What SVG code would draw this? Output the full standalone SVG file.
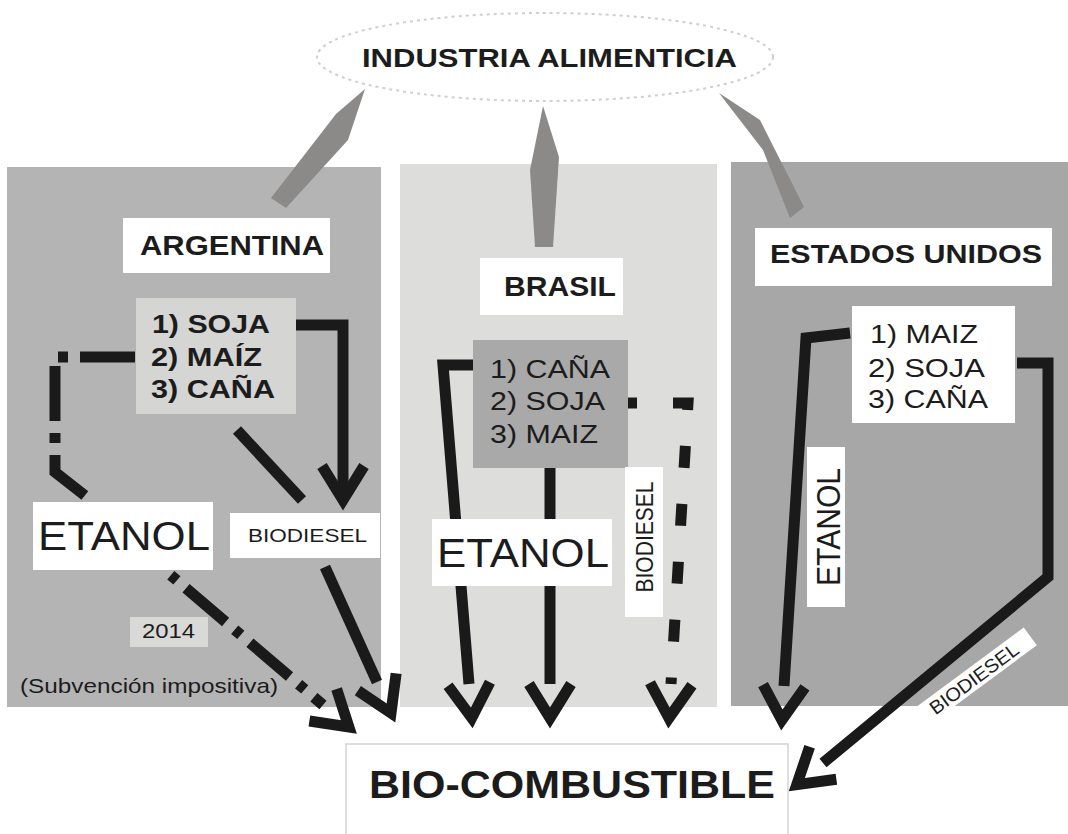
<svg xmlns="http://www.w3.org/2000/svg" width="1068" height="834" viewBox="0 0 1068 834">
<style>
text{font-family:"Liberation Sans",Arial,sans-serif;fill:#1c1c1c}
.b{font-weight:bold}
.lbl{fill:#ffffff}
.ln{fill:none;stroke:#1a1a1a;stroke-width:11;stroke-linejoin:miter}
.wedge{fill:#8c8a88}
</style>
<defs>
<marker id="ah" markerUnits="userSpaceOnUse" markerWidth="80" markerHeight="80" refX="0" refY="0" orient="auto" style="overflow:visible">
<path d="M0,-21 L34,0 L0,21" fill="none" stroke="#1a1a1a" stroke-width="11" stroke-linejoin="miter"/>
</marker>
<marker id="ah2" markerUnits="userSpaceOnUse" markerWidth="80" markerHeight="80" refX="0" refY="0" orient="auto" style="overflow:visible">
<path d="M-34,-21 L0,0 L-34,21" fill="none" stroke="#1a1a1a" stroke-width="11" stroke-linejoin="miter"/>
</marker>
</defs>
<rect width="1068" height="834" fill="#ffffff"/>
<g id="panels">
<rect x="7" y="167" width="374" height="540" fill="#b4b4b4"/>
<rect x="400" y="164" width="317" height="543" fill="#dddddb"/>
<rect x="731" y="162" width="337" height="544" fill="#a7a7a7"/>
</g>
<g id="connectors">
<polygon class="wedge" points="365,89 336,114 271,198 286,208 348,140"/>
<polygon class="wedge" points="543,106 530,170 535,247 553,247 559,157"/>
<polygon class="wedge" points="719,93 760,120 804,207 790,218 763,150"/>
<path class="ln" d="M278,325 H343 V500" marker-end="url(#ah2)"/>
<path class="ln" d="M135,357 H55 V472 L88,498" stroke-dasharray="55 12 10 12"/>
<path class="ln" d="M237,430 L302,500"/>
<path class="ln" d="M167,572 L323,705" stroke-dasharray="52 12 8 12" stroke-dashoffset="59" marker-end="url(#ah)"/>
<path class="ln" d="M325,567 L377,682" marker-end="url(#ah)"/>
<path class="ln" d="M480,365 H443 L469,684" marker-end="url(#ah)"/>
<path class="ln" d="M550,468 V684" marker-end="url(#ah)"/>
<path class="ln" d="M615,403 H688 L671,684" stroke-dasharray="22 36" marker-end="url(#ah)"/>
<path class="ln" d="M850,333 L806,338 L784,686" marker-end="url(#ah)"/>
<path class="ln" d="M1017,363 H1048 V577 L823,763" marker-end="url(#ah)"/>
</g>
<g id="industria">
<ellipse cx="545" cy="57" rx="228" ry="44" fill="#ffffff" stroke="#cfcfcf" stroke-width="2" stroke-dasharray="3 4"/>
<text class="b" x="362" y="67" font-size="26" textLength="375" lengthAdjust="spacingAndGlyphs">INDUSTRIA ALIMENTICIA</text>
</g>
<g id="argentina">
<rect class="lbl" x="123" y="218" width="207" height="55"/>
<text class="b" x="140" y="255" font-size="28" textLength="184" lengthAdjust="spacingAndGlyphs">ARGENTINA</text>
</g>
<g id="arg-cultivos">
<rect x="136" y="298" width="160" height="116" fill="#d5d5d3"/>
<text class="b" x="152" y="333" font-size="25" textLength="118" lengthAdjust="spacingAndGlyphs">1) SOJA</text>
<text class="b" x="151" y="366" font-size="25" textLength="111" lengthAdjust="spacingAndGlyphs">2) MAÍZ</text>
<text class="b" x="151" y="398" font-size="25" textLength="124" lengthAdjust="spacingAndGlyphs">3) CAÑA</text>
</g>
<g id="arg-etanol">
<rect class="lbl" x="33" y="502" width="180" height="68"/>
<text x="38" y="550" font-size="40" textLength="172" lengthAdjust="spacingAndGlyphs">ETANOL</text>
</g>
<g id="arg-biodiesel">
<rect class="lbl" x="230" y="513" width="150" height="45"/>
<text x="248" y="542" font-size="18" textLength="119" lengthAdjust="spacingAndGlyphs">BIODIESEL</text>
</g>
<g id="arg-2014">
<rect x="130" y="617" width="78" height="30" fill="#d9d9d7"/>
<text x="142" y="638" font-size="21" textLength="53" lengthAdjust="spacingAndGlyphs">2014</text>
</g>
<g id="arg-subvencion">
<text x="20" y="693" font-size="21" textLength="258" lengthAdjust="spacingAndGlyphs">(Subvención impositiva)</text>
</g>
<g id="brasil">
<rect class="lbl" x="480" y="258" width="143" height="57"/>
<text class="b" x="504" y="296" font-size="28" textLength="112" lengthAdjust="spacingAndGlyphs">BRASIL</text>
</g>
<g id="bra-cultivos">
<rect x="473" y="340" width="155" height="128" fill="#a9a9a9"/>
<text x="490" y="378" font-size="25" textLength="120" lengthAdjust="spacingAndGlyphs">1) CAÑA</text>
<text x="490" y="410" font-size="25" textLength="115" lengthAdjust="spacingAndGlyphs">2) SOJA</text>
<text x="490" y="443" font-size="25" textLength="108" lengthAdjust="spacingAndGlyphs">3) MAIZ</text>
</g>
<g id="bra-etanol">
<rect class="lbl" x="432" y="519" width="180" height="67"/>
<text x="437" y="567" font-size="40" textLength="172" lengthAdjust="spacingAndGlyphs">ETANOL</text>
</g>
<g id="bra-biodiesel">
<rect class="lbl" x="625" y="467" width="38" height="150"/>
<text x="653" y="537" font-size="24" text-anchor="middle" textLength="111" lengthAdjust="spacingAndGlyphs" transform="rotate(-90 653 537)">BIODIESEL</text>
</g>
<g id="estados-unidos">
<rect class="lbl" x="755" y="228" width="297" height="58"/>
<text class="b" x="770" y="263" font-size="26" textLength="272" lengthAdjust="spacingAndGlyphs">ESTADOS UNIDOS</text>
</g>
<g id="eeuu-cultivos">
<rect class="lbl" x="852" y="306" width="163" height="117"/>
<text x="870" y="343" font-size="25" textLength="108" lengthAdjust="spacingAndGlyphs">1) MAIZ</text>
<text x="868" y="377" font-size="25" textLength="117" lengthAdjust="spacingAndGlyphs">2) SOJA</text>
<text x="868" y="408" font-size="25" textLength="120" lengthAdjust="spacingAndGlyphs">3) CAÑA</text>
</g>
<g id="eeuu-etanol">
<rect class="lbl" x="807" y="447" width="38" height="160"/>
<text x="840" y="527" font-size="33" text-anchor="middle" textLength="118" lengthAdjust="spacingAndGlyphs" transform="rotate(-90 840 527)">ETANOL</text>
</g>
<g id="eeuu-biodiesel">
<rect class="lbl" x="904" y="667" width="140" height="22" transform="rotate(-36.5 974 678)"/>
<text x="978" y="684" font-size="19" text-anchor="middle" textLength="106" lengthAdjust="spacingAndGlyphs" transform="rotate(-36.5 978 684)">BIODIESEL</text>
</g>
<g id="biocombustible">
<rect x="346" y="744" width="442" height="100" fill="#ffffff" stroke="#d4d4d4" stroke-width="1.5"/>
<text class="b" x="369" y="798" font-size="39" textLength="406" lengthAdjust="spacingAndGlyphs">BIO-COMBUSTIBLE</text>
</g>
</svg>
